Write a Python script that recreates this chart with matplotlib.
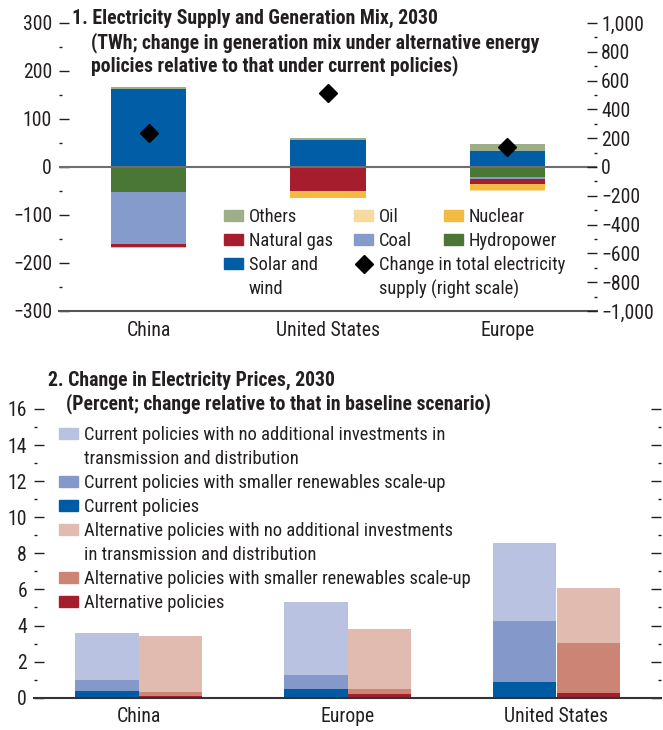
import numpy as np
import matplotlib
matplotlib.use("Agg")
import matplotlib.pyplot as plt
import matplotlib.font_manager as fm
from matplotlib.legend import Legend
from matplotlib.patches import Patch
from matplotlib.lines import Line2D
from matplotlib.ticker import MultipleLocator, FuncFormatter

# Panel 1: change in generation mix (TWh)
regions1 = ["China", "United States", "Europe"]
solar_wind = np.array([162, 56, 33])
others = np.array([4, 5, 15])
hydro = np.array([-53, 0, -21])
coal = np.array([-107, 0, -4])
gas = np.array([-6, -49, -11])
nuclear = np.array([-2, -15, -12])
oil = np.array([-1, 0, -2])
total_supply = np.array([234, 516, 141])

# Panel 2: change in electricity prices (percent)
regions2 = ["China", "Europe", "United States"]
cur_no_td = np.array([3.59, 5.31, 8.58])
cur_smaller = np.array([0.98, 1.26, 4.25])
cur = np.array([0.37, 0.48, 0.87])
alt_no_td = np.array([3.42, 3.81, 6.09])
alt_smaller = np.array([0.31, 0.48, 3.03])
alt = np.array([0.09, 0.22, 0.28])

c_others = "#9CAF88"
c_oil = "#F9DA9E"
c_nuclear = "#F3BB44"
c_gas = "#A61E2E"
c_coal = "#849BCB"
c_hydro = "#4A7636"
c_solar = "#005DA6"

c_lblue = "#B9C3E1"
c_mblue = "#8499CA"
c_dblue = "#005BA5"
c_lred = "#E2BBB0"
c_mred = "#CC8574"
c_dred = "#A41E2E"

# pick a narrow font if there is one, else Liberation Sans
family, stretch = "Liberation Sans", "normal"
fonts = fm.fontManager.ttflist
narrow = [f for f in fonts
          if ("narrow" in f.name.lower() or "condensed" in f.name.lower()
              or "condensed" in str(f.stretch))]
for pref in ["Liberation Sans Narrow", "Roboto Condensed", "Noto Sans",
             "Open Sans", "DejaVu Sans"]:
    hit = [f for f in narrow if f.name == pref or f.name.startswith(pref)]
    if hit:
        family, stretch = hit[0].name, str(hit[0].stretch)
        break

plt.rcParams["font.family"] = [family, "Liberation Sans", "DejaVu Sans"]
plt.rcParams["font.stretch"] = stretch if "condensed" in stretch else "normal"
plt.rcParams["text.color"] = "#231F20"
plt.rcParams["xtick.color"] = "#231F20"
plt.rcParams["ytick.color"] = "#231F20"

W, H = 663, 730
fig = plt.figure(figsize=(W / 100, H / 100), dpi=100)
renderer = fig.canvas.get_renderer()


def extent(s, size, weight="normal"):
    t = fig.text(0, 0, s, fontsize=size, fontweight=weight)
    bb = t.get_window_extent(renderer=renderer)
    t.remove()
    return bb.width, bb.height


# size the text so the widths match the reference
leg_fs = 10 * 385 / extent("Alternative policies with smaller renewables scale-up", 10)[0]
ttl_fs = 10 * 425 / extent("(Percent; change relative to that in baseline scenario)", 10, "bold")[0]
tick_fs = 10 * 29 / extent("300", 10)[0]
tick_fs = min(tick_fs, leg_fs * 1.2)
row_h = extent("Alternative policies", leg_fs)[1]
leg_space = max(0.0, (24 - row_h) / (leg_fs * 100 / 72))


def fx(px):
    return px / W


def fy(py):
    return 1 - py / H


def fmt(v, pos):
    return f"{v:,.0f}".replace("-", "\u2212")


# ---------- panel 1 ----------
ax1 = fig.add_axes([fx(59), fy(311), fx(597) - fx(59), fy(23) - fy(311)])
x1 = np.arange(len(regions1))
bw1 = 0.42

pos = np.zeros(3)
for vals, col in [(solar_wind, c_solar), (others, c_others)]:
    ax1.bar(x1, vals, bw1, bottom=pos, color=col, zorder=2)
    pos = pos + vals
neg = np.zeros(3)
for vals, col in [(hydro, c_hydro), (coal, c_coal), (gas, c_gas),
                  (nuclear, c_nuclear), (oil, c_oil)]:
    ax1.bar(x1, vals, bw1, bottom=neg, color=col, zorder=2)
    neg = neg + vals

ax1.axhline(0, color="#6E6E6E", lw=1.5, zorder=4)
ax1.set_xlim(-0.5, 2.5)
ax1.set_ylim(-300, 300)
for s in ["left", "right", "top"]:
    ax1.spines[s].set_visible(False)
ax1.spines["bottom"].set_color("#555555")
ax1.spines["bottom"].set_linewidth(1.5)
ax1.yaxis.set_major_locator(MultipleLocator(100))
ax1.yaxis.set_minor_locator(MultipleLocator(50))
ax1.yaxis.set_major_formatter(FuncFormatter(fmt))
ax1.tick_params(axis="y", which="major", direction="in", length=7, width=1,
                pad=5, labelsize=tick_fs)
ax1.tick_params(axis="y", which="minor", direction="in", length=2.5, width=1)
ax1.set_xticks(x1, regions1)
ax1.tick_params(axis="x", length=0, pad=7, labelsize=tick_fs)

ax2 = ax1.twinx()
ax2.plot(x1, total_supply, ls="none", marker="D", ms=9, color="black", zorder=5)
ax2.set_ylim(-1000, 1000)
for s in ["left", "right", "top", "bottom"]:
    ax2.spines[s].set_visible(False)
ax2.yaxis.set_major_locator(MultipleLocator(200))
ax2.yaxis.set_minor_locator(MultipleLocator(100))
ax2.yaxis.set_major_formatter(FuncFormatter(fmt))
ax2.tick_params(axis="y", which="major", direction="in", length=7, width=1,
                pad=3, labelsize=tick_fs)
ax2.tick_params(axis="y", which="minor", direction="in", length=2.5, width=1)

fig.text(fx(72), fy(18), "1. Electricity Supply and Generation Mix, 2030",
         fontsize=ttl_fs, fontweight="bold", va="center")
fig.text(fx(91), fy(43), "(TWh; change in generation mix under alternative energy",
         fontsize=ttl_fs, fontweight="bold", va="center")
fig.text(fx(91), fy(66), "policies relative to that under current policies)",
         fontsize=ttl_fs, fontweight="bold", va="center")

fs_px = leg_fs * 100 / 72
blank = Patch(facecolor="none", edgecolor="none")
leg_kw = dict(frameon=False, borderpad=0, borderaxespad=0, fontsize=leg_fs,
              handlelength=19 / fs_px, handleheight=10 / fs_px,
              handletextpad=6 / fs_px, labelspacing=leg_space,
              loc="upper left", bbox_transform=fig.transFigure)
col1 = [(Patch(color=c_others), "Others"), (Patch(color=c_gas), "Natural gas"),
        (Patch(color=c_solar), "Solar and"), (blank, "wind")]
col2 = [(Patch(color=c_oil), "Oil"), (Patch(color=c_coal), "Coal"),
        (Line2D([], [], ls="none", marker="D", ms=9, color="black"),
         "Change in total electricity"),
        (blank, "supply (right scale)")]
col3 = [(Patch(color=c_nuclear), "Nuclear"), (Patch(color=c_hydro), "Hydropower")]
for cols, xpx in [(col1, 224), (col2, 354), (col3, 444)]:
    lg = Legend(ax2, [h for h, _ in cols], [t for _, t in cols],
                bbox_to_anchor=(fx(xpx), fy(217 - row_h / 2)), **leg_kw)
    ax2.add_artist(lg)

# ---------- panel 2 ----------
ax3 = fig.add_axes([fx(34), fy(697.7), fx(661) - fx(34), fy(409) - fy(697.7)])
x2 = np.arange(len(regions2))
bw2 = 0.305
xc = x2 - bw2 / 2
xa = x2 + bw2 / 2
ax3.bar(xc, cur_no_td, bw2, color=c_lblue, zorder=2)
ax3.bar(xc, cur_smaller, bw2, color=c_mblue, zorder=2)
ax3.bar(xc, cur, bw2, color=c_dblue, zorder=2)
ax3.bar(xa, alt_no_td, bw2, color=c_lred, zorder=2)
ax3.bar(xa, alt_smaller, bw2, color=c_mred, zorder=2)
ax3.bar(xa, alt, bw2, color=c_dred, zorder=2)

ax3.set_xlim(-0.5, 2.5)
ax3.set_ylim(0, 16)
for s in ["left", "right", "top"]:
    ax3.spines[s].set_visible(False)
ax3.spines["bottom"].set_color("#333333")
ax3.spines["bottom"].set_linewidth(1.5)
ax3.spines["bottom"].set_zorder(5)
ax3.yaxis.set_major_locator(MultipleLocator(2))
ax3.yaxis.set_minor_locator(MultipleLocator(1))
ax3.tick_params(axis="y", which="major", direction="in", length=7, width=1,
                pad=5, labelsize=tick_fs, right=True)
ax3.tick_params(axis="y", which="minor", direction="in", length=2.5, width=1,
                right=True)
ax3.set_xticks(x2, regions2)
ax3.tick_params(axis="x", length=0, pad=7, labelsize=tick_fs)

fig.text(fx(48), fy(380), "2. Change in Electricity Prices, 2030",
         fontsize=ttl_fs, fontweight="bold", va="center")
fig.text(fx(66), fy(404), "(Percent; change relative to that in baseline scenario)",
         fontsize=ttl_fs, fontweight="bold", va="center")

leg2 = [(Patch(color=c_lblue), "Current policies with no additional investments in"),
        (blank, "transmission and distribution"),
        (Patch(color=c_mblue), "Current policies with smaller renewables scale-up"),
        (Patch(color=c_dblue), "Current policies"),
        (Patch(color=c_lred), "Alternative policies with no additional investments"),
        (blank, "in transmission and distribution"),
        (Patch(color=c_mred), "Alternative policies with smaller renewables scale-up"),
        (Patch(color=c_dred), "Alternative policies")]
ax3.legend([h for h, _ in leg2], [t for _, t in leg2],
           bbox_to_anchor=(fx(59), fy(435 - row_h / 2)), **leg_kw)

fig.savefig("out.png", dpi=100)
